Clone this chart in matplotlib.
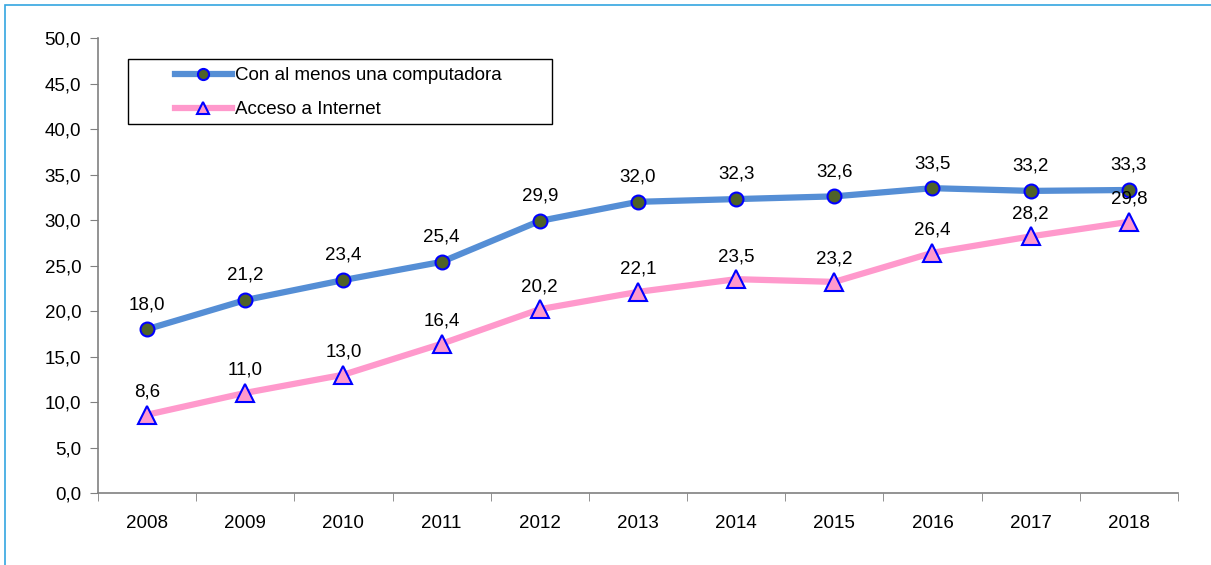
import numpy as np
import matplotlib.pyplot as plt
from matplotlib.lines import Line2D
from matplotlib.patches import Rectangle

plt.rcParams['font.family'] = ['Liberation Sans', 'DejaVu Sans']

years = ['2008', '2009', '2010', '2011', '2012', '2013', '2014', '2015', '2016', '2017', '2018']
computadora = [18.0, 21.2, 23.4, 25.4, 29.9, 32.0, 32.3, 32.6, 33.5, 33.2, 33.3]
internet = [8.6, 11.0, 13.0, 16.4, 20.2, 22.1, 23.5, 23.2, 26.4, 28.2, 29.8]

BLUE, PINK, OLIVE, EDGE = '#558ED5', '#FF99CC', '#4F6228', '#0000FF'


def fmt(v):
    return f"{v:.1f}".replace('.', ',')


fig = plt.figure(figsize=(12.11, 5.65), dpi=100)
ax = fig.add_axes([0.0809, 0.1274, 0.8918, 0.8053])

x = np.arange(len(years))
ax.plot(x, computadora, color=BLUE, linewidth=4.5, marker='o', markersize=10,
        markerfacecolor=OLIVE, markeredgecolor=EDGE, markeredgewidth=1.5, zorder=3)
ax.plot(x, internet, color=PINK, linewidth=4.5, marker='^', markersize=13,
        markerfacecolor=PINK, markeredgecolor=EDGE, markeredgewidth=1.5, zorder=3)

for xi, v in zip(x, computadora):
    ax.annotate(fmt(v), (xi, v), xytext=(0, 14.5), textcoords='offset points',
                ha='center', va='baseline', fontsize=13.5)
for xi, v in zip(x, internet):
    ax.annotate(fmt(v), (xi, v), xytext=(0, 13), textcoords='offset points',
                ha='center', va='baseline', fontsize=13.5)

ax.set_xlim(-0.5, len(years) - 0.5)
ax.set_ylim(0, 50)
ax.set_yticks(np.arange(0, 50.1, 5))
ax.set_yticklabels([fmt(v) for v in np.arange(0, 50.1, 5)])
ax.set_xticks(x)
ax.set_xticklabels(years)
ax.set_xticks(np.arange(-0.5, len(years)), minor=True)
ax.tick_params(axis='x', which='major', length=0, pad=16, labelsize=13.5)
ax.tick_params(axis='x', which='minor', length=6, direction='out', color='#808080')
ax.tick_params(axis='y', length=6, direction='out', color='#808080', labelsize=13.5, pad=6)

for s in ['top', 'right']:
    ax.spines[s].set_visible(False)
for s in ['left', 'bottom']:
    ax.spines[s].set_color('#808080')
    ax.spines[s].set_linewidth(1.2)

# legend box drawn on its own, entries placed inside it
ax.add_patch(Rectangle((0.0278, 0.811), 0.3926, 0.1428, transform=ax.transAxes,
                       fill=False, edgecolor='black', linewidth=1.0, zorder=4))
handles = [
    Line2D([], [], color=BLUE, linewidth=4.5, marker='o', markersize=8,
           markerfacecolor=OLIVE, markeredgecolor=EDGE, markeredgewidth=1.5),
    Line2D([], [], color=PINK, linewidth=4.5, marker='^', markersize=8,
           markerfacecolor=PINK, markeredgecolor=EDGE, markeredgewidth=1.5),
]
labels = ['Con al menos una computadora', 'Acceso a Internet']
leg = ax.legend(handles, labels, loc='upper left', bbox_to_anchor=(0.0713, 0.936),
                fontsize=13.5, frameon=False, handlelength=3.04, handletextpad=0.16,
                borderpad=0, labelspacing=0.9, borderaxespad=0)

fig.patches.append(Rectangle((0.0045, -0.1), 1.2, 1.091, transform=fig.transFigure,
                             fill=False, edgecolor='#33A6E0', linewidth=1.2))

fig.savefig('out.png', dpi=100)
